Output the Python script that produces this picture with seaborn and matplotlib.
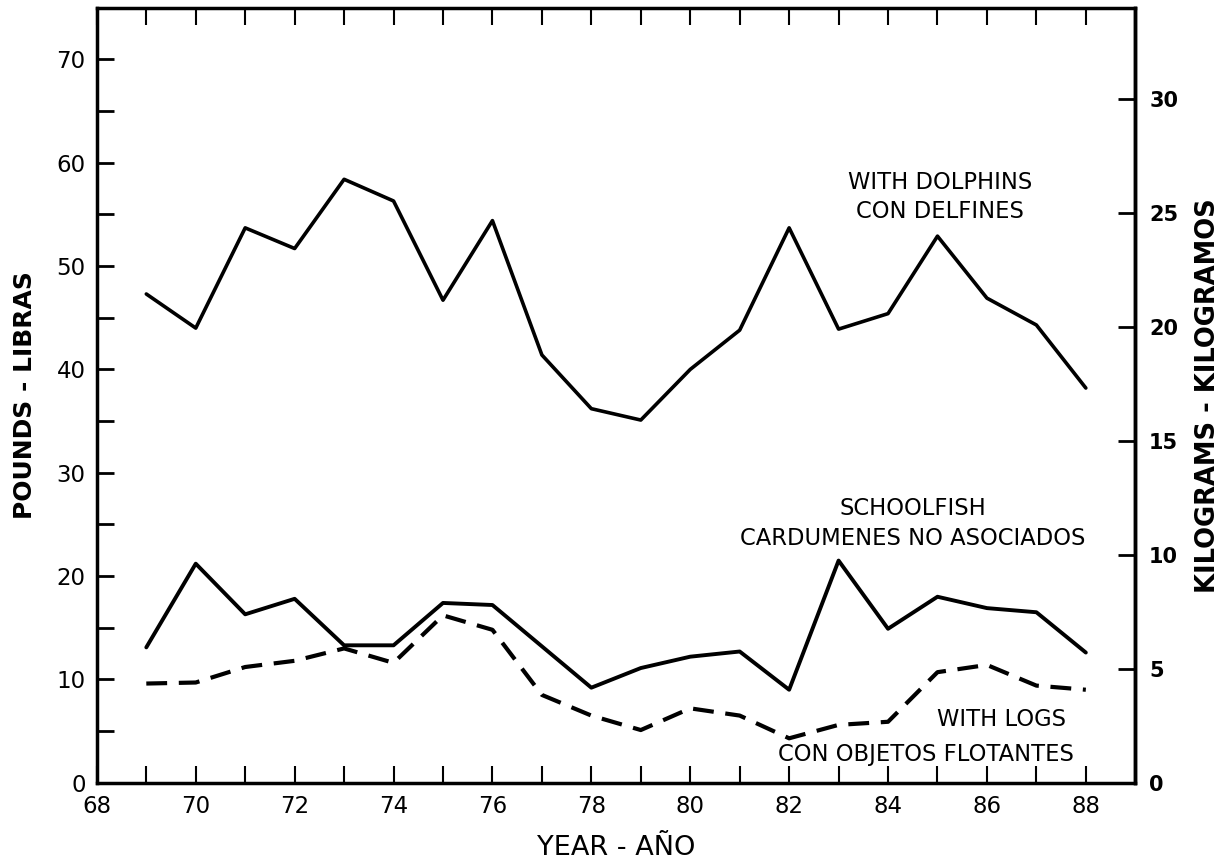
import numpy as np
import pandas as pd
import matplotlib
matplotlib.use("Agg")
import matplotlib.pyplot as plt
import seaborn as sns

years = list(range(69, 89))
dolphins = [47.3, 44.0, 53.7, 51.7, 58.4, 56.3, 46.7, 54.4, 41.4, 36.2,
            35.1, 40.0, 43.8, 53.7, 43.9, 45.4, 52.9, 46.9, 44.3, 38.2]
schoolfish = [13.1, 21.2, 16.3, 17.8, 13.3, 13.3, 17.4, 17.2, 13.2, 9.2,
              11.1, 12.2, 12.7, 9.0, 21.5, 14.9, 18.0, 16.9, 16.5, 12.6]
logs = [9.6, 9.7, 11.2, 11.8, 13.0, 11.6, 16.2, 14.8, 8.5, 6.5,
        5.1, 7.2, 6.5, 4.3, 5.6, 5.9, 10.7, 11.4, 9.4, 9.0]

LB_PER_KG = 2.2046

df = pd.DataFrame({"year": years, "dolphins": dolphins,
                   "schoolfish": schoolfish, "logs": logs})

sns.set_style("ticks")
plt.rcParams['font.family'] = ['DejaVu Sans']
for k in ["text.color", "axes.edgecolor", "axes.labelcolor", "xtick.color", "ytick.color"]:
    plt.rcParams[k] = "black"

fig = plt.figure(figsize=(12.26, 8.63), dpi=100)
ax = fig.add_axes([0.079, 0.093, 0.847, 0.898])

sns.lineplot(data=df, x="year", y="dolphins", color="black", lw=2.6, ax=ax)
sns.lineplot(data=df, x="year", y="schoolfish", color="black", lw=2.8, ax=ax)
ax.plot(df["year"], df["logs"], color="black", lw=3, dashes=(5, 2.8))

ax.set_xlim(68, 89)
ax.set_ylim(0, 75)
ax.set_xticks(range(68, 89, 2))
ax.set_xticks(range(69, 89, 2), minor=True)
ax.set_yticks(range(0, 71, 10))
ax.set_yticks(range(5, 75, 10), minor=True)
ax.tick_params(axis="x", which="both", direction="in", top=True, length=12, width=1.5,
               labelsize=16.5, pad=9)
ax.tick_params(axis="y", which="both", direction="in", length=12, width=2,
               labelsize=16.5, pad=8)
for s in ax.spines.values():
    s.set_linewidth(2.5)
    s.set_visible(True)

ax.set_xlabel("YEAR - AÑO", fontsize=19.5, labelpad=12)
ax.set_ylabel("POUNDS - LIBRAS", fontsize=18, fontweight="bold", labelpad=14)

sec = ax.secondary_yaxis("right", functions=(lambda v: v / LB_PER_KG,
                                             lambda v: v * LB_PER_KG))
sec.set_yticks(range(0, 31, 5))
sec.tick_params(direction="in", length=12, width=2, labelsize=15, pad=10)
for lab in sec.get_yticklabels():
    lab.set_fontweight("bold")
sec.spines["right"].set_linewidth(2.5)
sec.set_ylabel("KILOGRAMS - KILOGRAMOS", fontsize=18.5, fontweight="bold", labelpad=12)

fs = 16.3
ax.text(85.05, 56.7, "WITH DOLPHINS\nCON DELFINES", ha="center", va="center",
        fontsize=fs, linespacing=1.35)
ax.text(84.5, 25.1, "SCHOOLFISH\nCARDUMENES NO ASOCIADOS", ha="center", va="center",
        fontsize=fs, linespacing=1.35)
ax.text(86.3, 6.1, "WITH LOGS", ha="center", va="center", fontsize=fs)
ax.text(84.76, 2.7, "CON OBJETOS FLOTANTES", ha="center", va="center", fontsize=fs)

fig.savefig("out.png", dpi=100)
